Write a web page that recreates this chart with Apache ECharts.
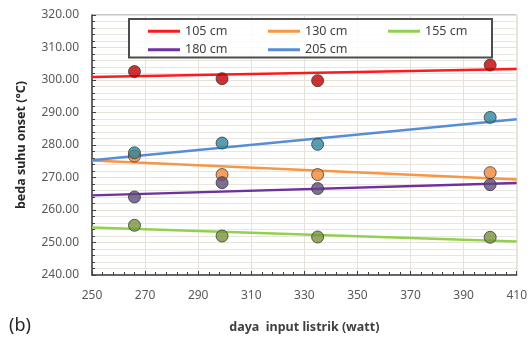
<!DOCTYPE html>
<html>
<head>
<meta charset="utf-8">
<script src="https://cdn.jsdelivr.net/npm/echarts@6/dist/echarts.min.js"></script>
<style>
  html, body { margin: 0; padding: 0; background: #ffffff; }
  #chart { width: 530px; height: 339px; }
</style>
</head>
<body>
<div id="chart"></div>
<script>
// Input power (watt) of each measurement
const powerWatt = [266, 299, 335, 400];

// Measured onset temperature difference (°C) per height
const seriesNames = ['105 cm', '130 cm', '155 cm', '180 cm', '205 cm'];
const onset105 = [302.6, 300.4, 299.8, 304.6];
const onset130 = [276.6, 270.9, 270.9, 271.5];
const onset155 = [255.3, 252.0, 251.7, 251.6];
const onset180 = [264.0, 268.4, 266.6, 267.8];
const onset205 = [277.6, 280.6, 280.2, 288.5];

// Linear trend lines: value at the axis start and at the axis end
const trendX = [250, 410];
const trend105 = [300.9, 303.4];
const trend130 = [275.2, 269.4];
const trend155 = [254.6, 250.3];
const trend180 = [264.5, 268.3];
const trend205 = [275.3, 287.9];

// Axis tick values
const xTicks = [250, 270, 290, 310, 330, 350, 370, 390, 410];
const yTicks = [240, 250, 260, 270, 280, 290, 300, 310, 320];

const measured = [onset105, onset130, onset155, onset180, onset205];
const trends = [trend105, trend130, trend155, trend180, trend205];
const lineColors = ['#ff1a1a', '#f79646', '#92d050', '#7030a0', '#558ed5'];
const markerColors = ['#c00000', '#f08a3a', '#77933c', '#604a7b', '#31859c'];

const pair = (xs, ys) => xs.map((x, i) => [x, ys[i]]);

const series = [];
seriesNames.forEach((name, i) => {
  series.push({
    name: name,
    type: 'line',
    data: pair(trendX, trends[i]),
    showSymbol: false,
    symbol: 'none',
    lineStyle: { color: lineColors[i], width: 2.5 },
    itemStyle: { color: lineColors[i] },
    silent: true,
    z: 2
  });
});
seriesNames.forEach((name, i) => {
  series.push({
    name: name + ' data',
    type: 'scatter',
    data: pair(powerWatt, measured[i]),
    symbol: 'circle',
    symbolSize: 12,
    itemStyle: { color: markerColors[i], borderColor: '#3a3a3a', borderWidth: 1 },
    z: 3
  });
});

const labelFont = { fontFamily: 'Noto Sans', fontSize: 12, color: '#595959' };

const chart = echarts.init(document.getElementById('chart'), null, { renderer: 'canvas' });
chart.setOption({
  animation: false,
  backgroundColor: '#ffffff',
  grid: {
    left: 92, right: 9, top: 15, bottom: 61,
    show: true, borderColor: '#8c8c8c', borderWidth: 1, backgroundColor: 'transparent'
  },
  legend: {
    data: seriesNames,
    left: 148, top: 22, width: 370, padding: 0,
    itemWidth: 32, itemHeight: 3, itemGap: 0,
    icon: 'rect',
    z: 6,
    textStyle: { fontFamily: 'Noto Sans', fontSize: 12.5, color: '#404040', width: 83, lineHeight: 18.5 }
  },
  xAxis: {
    type: 'value',
    min: xTicks[0], max: xTicks[xTicks.length - 1], interval: 20,
    name: 'daya  input listrik (watt)',
    nameLocation: 'middle', nameGap: 46,
    nameTextStyle: { fontFamily: 'Noto Sans', fontSize: 12.5, fontWeight: 'bold', color: '#404040' },
    axisLine: { show: true, lineStyle: { color: '#404040', width: 1.5 } },
    axisTick: { show: true, inside: true, length: 4, lineStyle: { color: '#404040' } },
    minorTick: { show: true, splitNumber: 5, length: 3, lineStyle: { color: '#404040' } },
    axisLabel: Object.assign({ margin: 15 }, labelFont),
    splitLine: { show: true, lineStyle: { color: '#e6e2d9', width: 1 } }
  },
  yAxis: {
    type: 'value',
    min: yTicks[0], max: yTicks[yTicks.length - 1], interval: 10,
    name: 'beda suhu onset (°C)',
    nameLocation: 'middle', nameGap: 64, nameRotate: 90,
    nameTextStyle: { fontFamily: 'Noto Sans', fontSize: 12.5, fontWeight: 'bold', color: '#262626' },
    axisLine: { show: true, lineStyle: { color: '#404040', width: 1.5 } },
    axisTick: { show: true, inside: true, length: 4, lineStyle: { color: '#404040' } },
    minorTick: { show: true, splitNumber: 5, length: 3, lineStyle: { color: '#404040' } },
    axisLabel: Object.assign({ margin: 13, formatter: v => v.toFixed(2) }, labelFont),
    splitLine: { show: true, lineStyle: { color: '#e6e2d9', width: 1 } },
    minorSplitLine: { show: true, lineStyle: { color: '#e9e6df', width: 1 } }
  },
  graphic: [
    {
      type: 'rect',
      shape: { x: 129, y: 19, width: 363, height: 38.5 },
      style: { fill: 'rgba(255,255,255,0.85)', stroke: '#4d4d4d', lineWidth: 2 },
      z: 5
    },
    {
      type: 'text',
      left: 9, top: 317,
      style: { text: '(b)', font: '18px "Noto Sans"', fill: '#262626' }
    }
  ],
  series: series
});
</script>
</body>
</html>
